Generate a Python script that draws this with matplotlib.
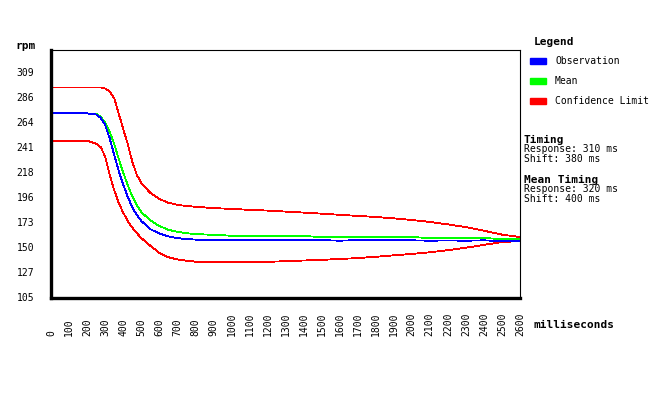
import matplotlib
matplotlib.use("Agg")
import matplotlib.pyplot as plt
from matplotlib.patches import Rectangle

# data (ms, rpm)
t = [0, 50, 100, 150, 200, 250, 275, 300, 325, 350, 375, 400, 425, 450, 475,
     500, 550, 600, 650, 700, 750, 800, 900, 1000, 1100, 1200, 1300, 1400,
     1500, 1600, 1700, 1800, 1900, 2000, 2100, 2200, 2300, 2400, 2500, 2600]

observation = [271.5, 271.5, 271.5, 271.5, 271.5, 270.5, 267.5, 261, 249, 234,
               219.5, 207, 196, 186.5, 179.5, 174, 166.5, 162.5, 160, 158.3,
               157.5, 157, 156.6, 156.5, 156.5, 156.5, 156.5, 156.5, 156.5,
               156.0, 156.5, 156.5, 156.3, 156.3, 156.0, 156.2, 156.0, 156.3,
               155.6, 155.9]

mean = [271.5, 271.5, 271.5, 271.5, 271.5, 271, 268.5, 263, 255, 244, 230.5,
        218, 206.5, 196.5, 188.5, 182, 174.5, 169.3, 166, 164, 162.8, 162,
        161.3, 160.5, 160.2, 160.2, 160.2, 160.2, 159.3, 159.3, 159.3, 159.3,
        159.3, 159.3, 158.4, 158.4, 158.4, 158.4, 157.5, 157.5]

upper = [295, 295, 295, 295, 295, 295, 295, 294, 291.5, 285.5, 271.5, 257.5,
         244, 228, 216, 208.5, 199.4, 193.8, 190.5, 188.5, 187.5, 186.8, 185.6,
         184.8, 184, 183.3, 182.4, 181.5, 180.5, 179.5, 178.5, 177.5, 176.3,
         174.8, 173, 170.8, 168.3, 165, 161.5, 159.3]

lower = [246.7, 246.7, 246.7, 246.7, 246.7, 244, 241, 232.5, 216, 202, 190.5,
         181.5, 174, 168, 163, 158.5, 151.5, 145, 141, 139, 137.8, 137, 136.5,
         136.5, 136.6, 136.8, 137.4, 138, 138.6, 139.4, 140.2, 141.4, 142.7,
         144, 145.5, 147.4, 149.6, 152.2, 154.8, 155.6]

y_ticks = [105, 127.67, 150.33, 173, 195.67, 218.33, 241, 263.67, 286.33, 309]
y_labels = ["105", "127", "150", "173", "196", "218", "241", "264", "286", "309"]
x_ticks = list(range(0, 2700, 100))

legend_names = ["Observation", "Mean", "Confidence Limit"]
legend_colors = ["#0000ff", "#00ff00", "#ff0000"]
timing_lines = [("Timing", True), ("Response: 310 ms", False), ("Shift: 380 ms", False),
                ("Mean Timing", True), ("Response: 320 ms", False), ("Shift: 400 ms", False)]

W, H = 660, 400
mono = "DejaVu Sans Mono"

fig = plt.figure(figsize=(W / 100, H / 100), dpi=100)
fig.patch.set_facecolor("white")
ax = fig.add_axes([51 / W, 1 - 298 / H, 469 / W, 248 / H])

ax.plot(t, upper, color="#ff0000", lw=0.6, antialiased=False)
ax.plot(t, lower, color="#ff0000", lw=0.6, antialiased=False)
ax.plot(t, mean, color="#00ff00", lw=0.6, antialiased=False)
ax.plot(t, observation, color="#0000ff", lw=0.6, antialiased=False)

ax.set_xlim(0, 2600)
ax.set_ylim(104, 329)

ax.set_yticks(y_ticks)
ax.set_yticklabels(y_labels, fontfamily=mono, fontsize=7)
ax.tick_params(axis="y", length=0, pad=12)
ax.set_xticks(x_ticks)
ax.set_xticklabels([])
ax.tick_params(axis="x", length=0)
for xt in x_ticks:
    ax.text(xt, (298 - 336) / 248, str(xt), transform=ax.get_xaxis_transform(),
            rotation=90, ha="center", va="bottom", fontfamily=mono, fontsize=7)

for side in ["left", "bottom"]:
    ax.spines[side].set_linewidth(2.4)
for side in ["top", "right"]:
    ax.spines[side].set_linewidth(0.8)

def ftext(x, y, s, bold=False, size=7, **kw):
    fig.text(x / W, 1 - y / H, s, fontfamily=mono, fontsize=size,
             fontweight="bold" if bold else "normal", va="center", **kw)

ftext(15, 46, "rpm", bold=True, size=8)
ftext(534, 325, "milliseconds", bold=True, size=8)
ftext(534, 42, "Legend", bold=True, size=8)

for i, (name, col) in enumerate(zip(legend_names, legend_colors)):
    yc = 61 + 20 * i
    fig.patches.append(Rectangle((530 / W, 1 - (yc + 3) / H), 16 / W, 6 / H,
                                 transform=fig.transFigure, color=col))
    ftext(555, yc, name)

ys = [140, 149.5, 159, 180, 189.5, 199]
for (s, b), yy in zip(timing_lines, ys):
    ftext(524, yy, s, bold=b, size=8 if b else 7)

fig.savefig("out.png", dpi=100)
